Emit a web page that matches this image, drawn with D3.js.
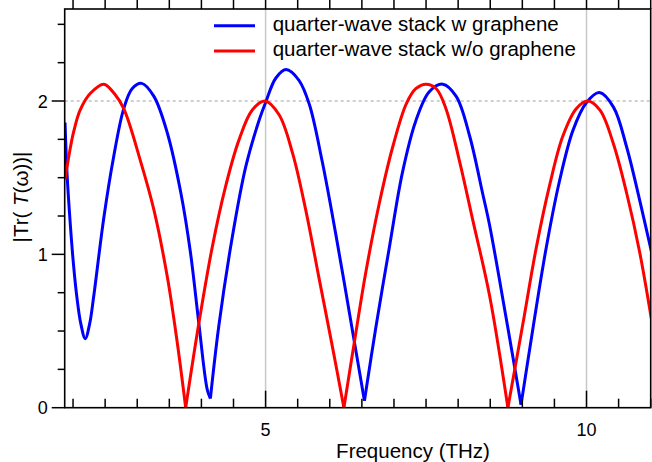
<!DOCTYPE html>
<html>
<head>
<meta charset="utf-8">
<script src="https://cdn.jsdelivr.net/npm/d3@7"></script>
<style>
  body { margin: 0; background: #fff; }
  svg { display: block; font-family: "Liberation Sans", Arial, sans-serif; }
</style>
</head>
<body>
<div id="chart"></div>
<script>

// frequency (THz) / |Tr(T(w))|
var blueFreq = [1.875, 1.906, 1.96, 2.01, 2.06, 2.12, 2.19, 2.26, 2.32, 2.48, 2.63, 2.79, 2.92, 3.07, 3.26, 3.47, 3.68, 3.83, 3.96, 4.09, 4.14,
                4.27, 4.48, 4.69, 4.895, 5.0, 5.16, 5.32, 5.52, 5.68, 5.88, 6.09, 6.35, 6.54,
                6.72, 6.93, 7.13, 7.34, 7.55, 7.76, 7.97, 8.18, 8.38, 8.49, 8.75, 8.98,
                9.17, 9.375, 9.58, 9.79, 10.0, 10.2, 10.42, 10.625, 10.83, 11.01];
var blueVal  = [1.86, 1.53, 1.18, 0.92, 0.72, 0.55, 0.45, 0.55, 0.72, 1.24, 1.63, 1.95, 2.08, 2.115, 2.03, 1.79, 1.40, 1.01, 0.55, 0.12, 0.06,
                0.53, 1.11, 1.57, 1.87, 1.99, 2.15, 2.205, 2.135, 1.98, 1.61, 1.14, 0.51, 0.045,
                0.53, 1.05, 1.53, 1.87, 2.06, 2.11, 2.03, 1.77, 1.40, 1.19, 0.58, 0.02,
                0.53, 1.05, 1.48, 1.81, 1.99, 2.055, 1.96, 1.70, 1.35, 1.02];

var redFreq = [1.875, 1.96, 2.01, 2.11, 2.27, 2.48, 2.64, 2.79, 3.05, 3.26, 3.47, 3.625, 3.755,
               3.96, 4.17, 4.375, 4.58, 4.79, 4.99, 5.21, 5.42, 5.625, 5.83, 6.04, 6.22,
               6.38, 6.56, 6.77, 6.98, 7.19, 7.34, 7.5, 7.66, 7.81, 8.02, 8.23, 8.49, 8.775,
               9.01, 9.22, 9.43, 9.63, 9.84, 10.02, 10.21, 10.42, 10.625, 10.83, 11.01];
var redVal  = [1.49, 1.70, 1.80, 1.94, 2.05, 2.11, 2.05, 1.95, 1.61, 1.29, 0.85, 0.42, 0,
               0.55, 1.05, 1.44, 1.74, 1.94, 2.0, 1.91, 1.66, 1.29, 0.85, 0.40, 0,
               0.42, 0.88, 1.33, 1.70, 1.98, 2.08, 2.11, 2.08, 1.95, 1.61, 1.22, 0.73, 0,
               0.55, 1.05, 1.46, 1.77, 1.95, 2.0, 1.94, 1.72, 1.40, 1.01, 0.58];

var xMinor = d3.range(2, 11.01, 0.5);
var xMajor = [5, 10];
var yMinor = d3.range(0, 2.51, 0.25);
var yMajor = [0, 1, 2];

var seriesNames = ["quarter-wave stack w graphene", "quarter-wave stack w/o graphene"];
var seriesColors = ["#0000ff", "#ff0000"];

var W = 652, H = 462;
var margin = {top: 9, right: 1.3, bottom: 54.3, left: 64.7},
    width = W - margin.left - margin.right,
    height = H - margin.top - margin.bottom;

var svg = d3.select("#chart").append("svg")
    .attr("width", W)
    .attr("height", H)
  .append("g")
    .attr("transform", "translate(" + margin.left + "," + margin.top + ")");

var x = d3.scaleLinear().domain([1.87, 11]).range([0, width]);
var y = d3.scaleLinear().domain([0, 2.6]).range([height, 0]);

svg.append("clipPath").attr("id", "clip")
  .append("rect").attr("width", width).attr("height", height);

// grid: light verticals at the labelled ticks, dashed line at 2
svg.selectAll(".vgrid").data(xMajor).enter().append("line")
    .attr("x1", d => x(d)).attr("x2", d => x(d))
    .attr("y1", 0).attr("y2", height)
    .style("stroke", "#c8c8c8").style("stroke-width", 1.5);
svg.append("line")
    .attr("x1", 0).attr("x2", width)
    .attr("y1", y(2)).attr("y2", y(2))
    .style("stroke", "#c0c0c0").style("stroke-width", 1.5)
    .style("stroke-dasharray", "3,3");

// curves: split at the zero cusps so the V shapes stay sharp
function pieces(xs, vs) {
  var pts = xs.map((f, i) => [f, vs[i]]);
  var out = [], cur = [];
  pts.forEach(function(p, i) {
    cur.push(p);
    var isCusp = i > 0 && i < pts.length - 1 && p[1] < 0.1 &&
                 pts[i-1][1] > p[1] && pts[i+1][1] > p[1];
    if (isCusp) { out.push(cur); cur = [p]; }
  });
  out.push(cur);
  return out;
}

var line = d3.line()
    .x(d => x(d[0]))
    .y(d => y(d[1]))
    .curve(d3.curveCatmullRom.alpha(0.5));

var curves = svg.append("g").attr("clip-path", "url(#clip)");
[[blueFreq, blueVal], [redFreq, redVal]].forEach(function(s, k) {
  curves.selectAll(".s" + k).data(pieces(s[0], s[1])).enter().append("path")
      .attr("d", line)
      .style("fill", "none")
      .style("stroke", seriesColors[k])
      .style("stroke-width", 3)
      .style("stroke-linejoin", "round");
});

// frame
svg.append("rect")
    .attr("width", width).attr("height", height)
    .style("fill", "none").style("stroke", "#000").style("stroke-width", 1.6);

// bottom ticks point inward, top ticks outward
svg.selectAll(".bt").data(xMinor).enter().append("line")
    .attr("x1", d => x(d)).attr("x2", d => x(d))
    .attr("y1", height).attr("y2", d => height - (xMajor.includes(d) ? 17 : 9))
    .style("stroke", "#000").style("stroke-width", 1.5);
svg.selectAll(".tt").data(xMinor).enter().append("line")
    .attr("x1", d => x(d)).attr("x2", d => x(d))
    .attr("y1", 0).attr("y2", -9)
    .style("stroke", "#000").style("stroke-width", 1.5);

// left ticks outward
svg.selectAll(".lt").data(yMinor).enter().append("line")
    .attr("x1", 0).attr("x2", d => yMajor.includes(d) ? -13 : -7)
    .attr("y1", d => y(d)).attr("y2", d => y(d))
    .style("stroke", "#000").style("stroke-width", 1.5);

svg.selectAll(".xl").data(xMajor).enter().append("text")
    .attr("x", d => x(d)).attr("y", height + 28)
    .attr("text-anchor", "middle")
    .style("font-size", "18px")
    .text(d => d);
svg.selectAll(".yl").data(yMajor).enter().append("text")
    .attr("x", -17).attr("y", d => y(d) + 6.5)
    .attr("text-anchor", "end")
    .style("font-size", "18px")
    .text(d => d);

svg.append("text")
    .attr("x", 413 - margin.left).attr("y", 457.5 - margin.top)
    .attr("text-anchor", "middle")
    .style("font-size", "20.5px")
    .text("Frequency (THz)");

var ylab = svg.append("text")
    .attr("transform", "translate(" + (28 - margin.left) + "," + (197 - margin.top) + ") rotate(-90)")
    .attr("text-anchor", "middle")
    .style("font-size", "20.5px");
ylab.append("tspan").text("|Tr( ");
ylab.append("tspan").style("font-style", "italic").text("T");
ylab.append("tspan").text("(\u03c9))|");

// legend
var leg = svg.append("g").attr("transform", "translate(" + (214 - margin.left) + "," + (25.7 - margin.top) + ")");
seriesNames.forEach(function(name, i) {
  leg.append("line")
      .attr("x1", 0).attr("x2", 41)
      .attr("y1", i * 25.3).attr("y2", i * 25.3)
      .style("stroke", seriesColors[i]).style("stroke-width", 3);
  leg.append("text")
      .attr("x", 58.7).attr("y", i * 25.3 + 5.5)
      .style("font-size", "20.5px")
      .text(name);
});

</script>
</body>
</html>
